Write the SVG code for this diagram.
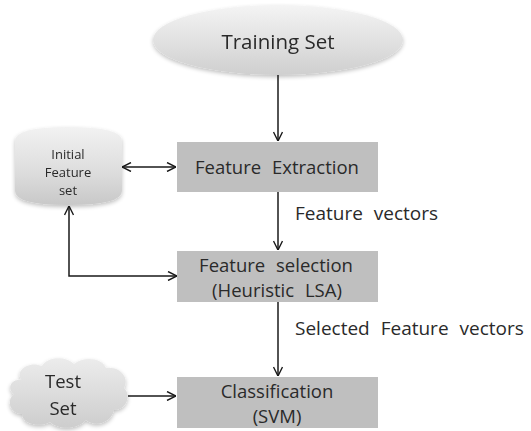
<svg xmlns="http://www.w3.org/2000/svg" width="531" height="431" viewBox="0 0 531 431">
  <defs>
    <linearGradient id="gEllipse" x1="0" y1="0" x2="0" y2="1">
      <stop offset="0" stop-color="#f4f4f4"/>
      <stop offset="0.6" stop-color="#dedede"/>
      <stop offset="1" stop-color="#cfcfcf"/>
    </linearGradient>
    <linearGradient id="gCyl" x1="0" y1="0" x2="0" y2="1">
      <stop offset="0" stop-color="#f2f2f2"/>
      <stop offset="0.6" stop-color="#dcdcdc"/>
      <stop offset="1" stop-color="#c8c8c8"/>
    </linearGradient>
    <linearGradient id="gCloud" x1="0" y1="0" x2="0" y2="1">
      <stop offset="0" stop-color="#ececec"/>
      <stop offset="1" stop-color="#cdcdcd"/>
    </linearGradient>
    <filter id="soft" x="-10%" y="-10%" width="120%" height="130%">
      <feGaussianBlur in="SourceAlpha" stdDeviation="2"/>
      <feOffset dy="2" result="b"/>
      <feComponentTransfer><feFuncA type="linear" slope="0.25"/></feComponentTransfer>
      <feMerge><feMergeNode/><feMergeNode in="SourceGraphic"/></feMerge>
    </filter>
    <marker id="arr" viewBox="0 0 10 10" refX="10" refY="5" markerWidth="10" markerHeight="10" markerUnits="userSpaceOnUse" orient="auto-start-reverse">
      <path d="M1,0.5 L10,5 L1,9.5" fill="none" stroke="#1a1a1a" stroke-width="1.4"/>
    </marker>
  </defs>
  <style>
    .box { fill: #bfbfbf; }
    .lbl { font-family: "Open Sans", "Noto Sans", "Liberation Sans", sans-serif; fill: #2a2a2a; text-anchor: middle; }
    .boxlbl { font-size: 18.5px; word-spacing: 6px; }
    .edge { fill: none; stroke: #1a1a1a; stroke-width: 1.5; marker-end: url(#arr); }
    .note { font-family: "Open Sans", "Noto Sans", "Liberation Sans", sans-serif; fill: #2a2a2a; font-size: 19px; word-spacing: 6px; }
  </style>
  <rect width="531" height="431" fill="#ffffff"/>

  <g id="training-set" filter="url(#soft)">
    <ellipse cx="278" cy="40" rx="125" ry="35" fill="url(#gEllipse)"/>
    <text class="lbl" x="278" y="49" font-size="20.5">Training Set</text>
  </g>

  <g id="initial-feature-set" filter="url(#soft)">
    <path d="M15,141 Q15,127 68,127 Q122,127 122,141 L122,191 Q122,205 68,205 Q15,205 15,191 Z" fill="url(#gCyl)"/>
    <text class="lbl" x="68" y="159" font-size="13">Initial</text>
    <text class="lbl" x="68" y="177" font-size="13">Feature</text>
    <text class="lbl" x="68" y="195" font-size="13">set</text>
  </g>

  <g id="feature-extraction">
    <rect class="box" x="177" y="142" width="201" height="50"/>
    <text class="lbl boxlbl" x="277" y="174">Feature Extraction</text>
  </g>

  <g id="feature-selection">
    <rect class="box" x="177" y="251" width="201" height="51"/>
    <text class="lbl boxlbl" x="276" y="272">Feature selection</text>
    <text class="lbl boxlbl" x="277" y="297">(Heuristic LSA)</text>
  </g>

  <g id="test-set" filter="url(#soft)">
    <path d="M22,380 C14,372 28,360 42,366 C48,356 66,356 74,364 C84,356 102,358 106,368 C120,366 130,378 124,388 C132,396 126,410 114,410 C112,422 96,428 86,420 C78,430 58,430 50,422 C40,428 22,424 22,414 C10,414 6,400 14,394 C6,388 12,378 22,380 Z" fill="url(#gCloud)"/>
    <text class="lbl" x="63" y="388" font-size="18.5">Test</text>
    <text class="lbl" x="63" y="415" font-size="18.5">Set</text>
  </g>

  <g id="classification">
    <rect class="box" x="177" y="377" width="201" height="51"/>
    <text class="lbl boxlbl" x="277" y="398">Classification</text>
    <text class="lbl boxlbl" x="277" y="423">(SVM)</text>
  </g>

  <g id="connectors">
    <line class="edge" x1="278" y1="75" x2="278" y2="141"/>
    <line class="edge" x1="278" y1="192" x2="278" y2="250"/>
    <line class="edge" x1="278" y1="302" x2="278" y2="376"/>
    <line class="edge" x1="122" y1="167" x2="176" y2="167" style="marker-start:url(#arr)"/>
    <polyline class="edge" points="177,276 69,276 69,206" style="marker-end:url(#arr);marker-start:url(#arr)"/>
    <line class="edge" x1="128" y1="396" x2="176" y2="396"/>
    <text class="note" x="295" y="220">Feature vectors</text>
    <text class="note" x="295" y="335">Selected Feature vectors</text>
  </g>
</svg>
